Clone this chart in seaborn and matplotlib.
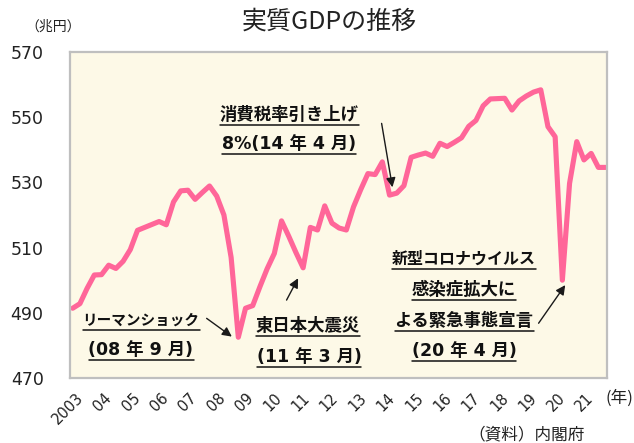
import numpy as np
import pandas as pd
import seaborn as sns
import matplotlib
matplotlib.use('Agg')
from matplotlib import pyplot as plt
from matplotlib.lines import Line2D
from matplotlib.transforms import IdentityTransform

# 実質GDP (兆円), quarterly
gdp = [491.4, 492.8, 497.5, 501.6, 501.7, 504.6, 503.6, 505.8, 509.4, 515.3,
       516.2, 517.1, 518.0, 517.0, 524.0, 527.4, 527.6, 524.8, 526.9, 528.9,
       525.8, 520.0, 507.0, 482.5, 491.4, 492.2, 498.0, 503.5, 508.2, 518.2,
       513.5, 508.5, 503.8, 516.2, 515.4, 522.8, 517.5, 516.0, 515.4, 522.5,
       527.8, 532.7, 532.4, 536.3, 526.1, 526.7, 529.0, 537.7, 538.4, 539.0,
       538.0, 542.0, 541.0, 542.3, 543.7, 547.2, 549.0, 553.5, 555.6, 555.7,
       555.8, 552.2, 555.0, 556.5, 557.7, 558.4, 547.1, 544.0, 500.0, 529.7,
       542.5, 536.9, 538.9, 534.6, 534.6]
year_labels = ['2003', '04', '05', '06', '07', '08', '09', '10', '11', '12',
               '13', '14', '15', '16', '17', '18', '19', '20', '21']
y_ticks = [470, 490, 510, 530, 550, 570]

# annotation text lines: (text, centre x px, centre y px, font size)
notes = [('消費税率引き上げ', 289, 115, 12.5), ('8%(14 年 4 月)', 289, 144, 12.5),
         ('リーマンショック', 141, 320, 10.5), ('(08 年 9 月)', 141, 350, 12.5),
         ('東日本大震災', 308, 326, 12.5), ('(11 年 3 月)', 309, 357, 12.5),
         ('新型コロナウイルス', 464, 259, 11.5), ('感染症拡大に', 464, 290, 12.5),
         ('よる緊急事態宣言', 464, 321, 12.5), ('(20 年 4 月)', 464, 351, 12.5)]
# arrows: (tail, head) in data coords
arrows = [((42.9, 548.1), (44.4, 528.5)),
          ((18.6, 488.3), (22.1, 482.7)),
          ((29.7, 493.9), (31.3, 500.6)),
          ((64.7, 486.8), (68.4, 498.5))]

sns.set_theme(style='white')
plt.rcParams['font.family'] = ['DejaVu Sans', 'Noto Sans CJK JP']

W, H = 634, 443
fig = plt.figure(figsize=(W / 100, H / 100), dpi=100)
fig.patch.set_facecolor('white')
ax = fig.add_axes([70 / W, 1 - 378 / H, 537 / W, 326 / H])
ax.set_facecolor('#FDF9E7')

df = pd.DataFrame({'q': np.arange(len(gdp)), 'gdp': gdp})
sns.lineplot(data=df, x='q', y='gdp', ax=ax, color='#FF6699', linewidth=3.7,
             solid_joinstyle='round', solid_capstyle='round')

ax.set_xlim(-0.375, 74.2)
ax.set_ylim(470, 570)
ax.set_yticks(y_ticks)
ax.set_yticklabels([str(v) for v in y_ticks], fontsize=12.5, color='#222222')
ax.set_xticks(np.arange(len(year_labels)) * 3.935 + 0.4)
ax.set_xticklabels(year_labels, rotation=45, ha='right', rotation_mode='anchor',
                   fontsize=10.5, color='#222222')
ax.tick_params(axis='x', length=0, pad=9)
ax.tick_params(axis='y', length=0, pad=19)
ax.set_xlabel('')
ax.set_ylabel('')
for s in ax.spines.values():
    s.set_color('#BFBFBF')
    s.set_linewidth(1.6)

for tail, head in arrows:
    ax.annotate('', xy=head, xytext=tail,
                arrowprops=dict(arrowstyle='-|>', color='#1a1a1a', lw=1.0,
                                mutation_scale=14, shrinkA=0, shrinkB=0))

fig.text(329 / W, 1 - 22 / H, '実質GDPの推移', fontsize=18, ha='center', va='center',
         family=['Noto Sans CJK JP'], color='#222222')
fig.text(53 / W, 1 - 27 / H, '（兆円）', fontsize=10, ha='center', va='center',
         family=['Noto Sans CJK JP'], color='#222222')
fig.text(619 / W, 1 - 398 / H, '(年)', fontsize=12, ha='center', va='center',
         family=['Noto Sans CJK JP'], color='#222222')
fig.text(527 / W, 1 - 435 / H, '（資料）内閣府', fontsize=12, ha='center', va='center',
         family=['Noto Sans CJK JP'], color='#222222')

texts = []
for label, px, py, size in notes:
    t = fig.text(px / W, 1 - py / H, label, fontsize=size, fontweight='bold',
                 ha='center', va='center', color='#111111')
    texts.append(t)

# underline each annotation line
fig.canvas.draw()
renderer = fig.canvas.get_renderer()
for t in texts:
    bb = t.get_window_extent(renderer)
    yc = (bb.y0 + bb.y1) / 2 - 10
    fig.add_artist(Line2D([bb.x0, bb.x1], [yc, yc], transform=IdentityTransform(),
                          color='#111111', lw=1.1))

fig.savefig('out.png', dpi=100)
